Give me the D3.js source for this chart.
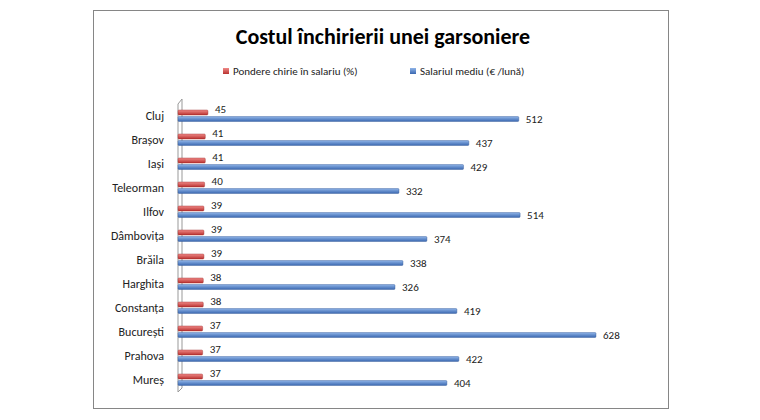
<!DOCTYPE html>
<html>
<head>
<meta charset="utf-8">
<script src="https://cdn.jsdelivr.net/npm/d3@7"></script>
<style>
  body { margin: 0; background: #fff; }
  text { font-family: Calibri, Carlito, "Liberation Sans", sans-serif; }
</style>
</head>
<body>
<svg id="chart" width="760" height="420"></svg>
<script>
const judete = ["Cluj", "Brașov", "Iași", "Teleorman", "Ilfov", "Dâmbovița", "Brăila", "Harghita", "Constanța", "București", "Prahova", "Mureș"];
const pondere = [45, 41, 41, 40, 39, 39, 39, 38, 38, 37, 37, 37];
const salariu = [512, 437, 429, 332, 514, 374, 338, 326, 419, 628, 422, 404];
const seriesNames = ["Pondere chirie în salariu (%)", "Salariul mediu (€ /lună)"];

const svg = d3.select("#chart");

// frame
svg.append("rect").attr("x", 93.5).attr("y", 10.5).attr("width", 575).attr("height", 398)
  .attr("fill", "#fff").attr("stroke", "#868686");

svg.append("text").attr("x", 383).attr("y", 44).attr("text-anchor", "middle")
  .attr("font-size", 22).attr("font-weight", "bold").text("Costul închirierii unei garsoniere");

const defs = svg.append("defs");
function grad(id, light, dark) {
  const g = defs.append("linearGradient").attr("id", id).attr("x1", 0).attr("y1", 0).attr("x2", 0).attr("y2", 1);
  g.append("stop").attr("offset", "0%").attr("stop-color", light);
  g.append("stop").attr("offset", "100%").attr("stop-color", dark);
}
grad("gRed", "#f08a88", "#b8312f");
grad("gBlue", "#8fb4e8", "#3a67b0");

// legend
const legend = [[223, "gRed"], [410, "gBlue"]];
legend.forEach(([lx, g], i) => {
  svg.append("rect").attr("x", lx).attr("y", 68).attr("width", 6).attr("height", 6).attr("fill", `url(#${g})`);
  svg.append("text").attr("x", lx + 10).attr("y", 75).attr("font-size", 11).attr("fill", "#222").text(seriesNames[i]);
});

const x = d3.scaleLinear().domain([0, 628]).range([178, 596]);
const y = d3.scaleBand().domain(judete).range([104, 392]);

// 3D wall on the left
svg.append("path").attr("d", "M178,104 L182,99 L182,388 L178,392 Z")
  .attr("fill", "#fff").attr("stroke", "#999");

svg.append("g").attr("transform", "translate(178,0)")
  .call(d3.axisLeft(y).tickSize(0).tickPadding(14))
  .call(g => g.select(".domain").remove())
  .selectAll("text").attr("font-size", 12).attr("fill", "#222")
  .style("font-family", "Calibri, Carlito, 'Liberation Sans', sans-serif");

const rows = svg.append("g").selectAll("g").data(judete).join("g");
rows.append("rect").attr("x", x(0)).attr("y", d => y(d) + y.bandwidth() / 2 - 6)
  .attr("width", (d, i) => x(pondere[i]) - x(0)).attr("height", 5).attr("rx", 1)
  .attr("fill", "url(#gRed)").attr("stroke", "#9b2624").attr("stroke-width", 0.4);
rows.append("rect").attr("x", x(0)).attr("y", d => y(d) + y.bandwidth() / 2 + 0.5)
  .attr("width", (d, i) => x(salariu[i]) - x(0)).attr("height", 5).attr("rx", 1)
  .attr("fill", "url(#gBlue)").attr("stroke", "#2f5694").attr("stroke-width", 0.4);
rows.append("text").attr("x", (d, i) => x(pondere[i]) + 7).attr("y", d => y(d) + y.bandwidth() / 2 - 3)
  .attr("font-size", 11).attr("fill", "#222").text((d, i) => pondere[i]);
rows.append("text").attr("x", (d, i) => x(salariu[i]) + 7).attr("y", d => y(d) + y.bandwidth() / 2 + 7)
  .attr("font-size", 11).attr("fill", "#222").text((d, i) => salariu[i]);
</script>
</body>
</html>
